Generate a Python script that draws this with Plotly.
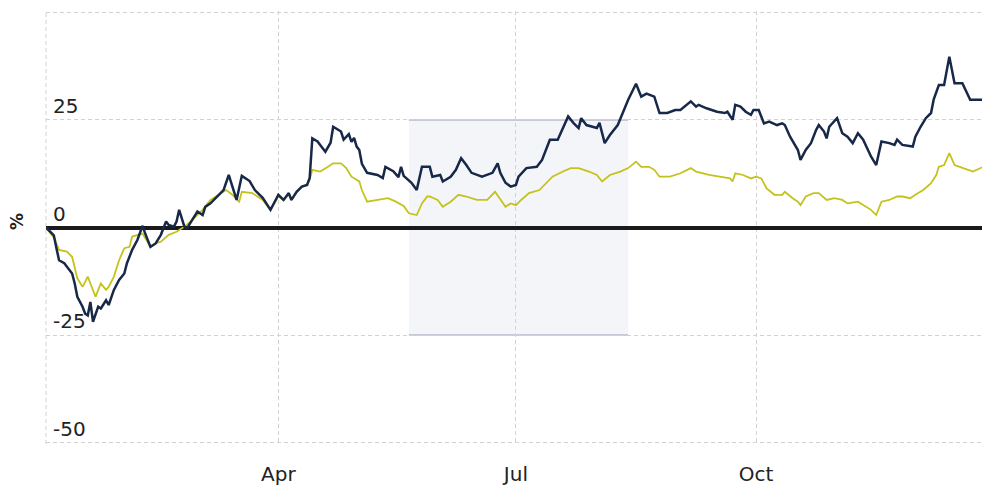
import plotly.graph_objects as go

# ---- data ----
fund_dates = [
    "2015-01-02", "2015-01-04", "2015-01-05", "2015-01-06", "2015-01-07", "2015-01-09", "2015-01-11",
    "2015-01-12", "2015-01-13", "2015-01-14", "2015-01-16", "2015-01-17", "2015-01-18", "2015-01-19",
    "2015-01-20", "2015-01-22", "2015-01-23", "2015-01-25", "2015-01-26", "2015-01-28", "2015-01-30",
    "2015-02-01", "2015-02-02", "2015-02-04", "2015-02-06", "2015-02-08", "2015-02-09", "2015-02-11",
    "2015-02-13", "2015-02-15", "2015-02-17", "2015-02-18", "2015-02-20", "2015-02-21", "2015-02-22",
    "2015-02-24", "2015-02-25", "2015-02-27", "2015-03-01", "2015-03-03", "2015-03-04", "2015-03-06",
    "2015-03-09", "2015-03-11", "2015-03-13", "2015-03-16", "2015-03-18", "2015-03-21", "2015-03-23",
    "2015-03-26", "2015-03-29", "2015-04-01", "2015-04-03", "2015-04-05", "2015-04-06", "2015-04-08",
    "2015-04-10", "2015-04-12", "2015-04-13", "2015-04-14", "2015-04-16", "2015-04-19", "2015-04-21",
    "2015-04-22", "2015-04-25", "2015-04-26", "2015-04-28", "2015-04-29", "2015-04-30", "2015-05-01",
    "2015-05-02", "2015-05-03", "2015-05-05", "2015-05-09", "2015-05-11", "2015-05-12", "2015-05-15",
    "2015-05-17", "2015-05-18", "2015-05-19", "2015-05-22", "2015-05-24", "2015-05-26", "2015-05-29",
    "2015-05-30", "2015-06-02", "2015-06-03", "2015-06-06", "2015-06-08", "2015-06-10", "2015-06-12",
    "2015-06-14", "2015-06-18", "2015-06-22", "2015-06-24", "2015-06-25", "2015-06-27", "2015-06-29",
    "2015-07-01", "2015-07-02", "2015-07-05", "2015-07-09", "2015-07-11", "2015-07-14", "2015-07-17",
    "2015-07-19", "2015-07-21", "2015-07-23", "2015-07-25", "2015-07-26", "2015-07-28", "2015-08-01",
    "2015-08-02", "2015-08-04", "2015-08-06", "2015-08-09", "2015-08-11", "2015-08-13", "2015-08-16",
    "2015-08-18", "2015-08-20", "2015-08-23", "2015-08-25", "2015-08-28", "2015-08-31", "2015-09-02",
    "2015-09-06", "2015-09-08", "2015-09-09", "2015-09-12", "2015-09-16", "2015-09-19", "2015-09-20",
    "2015-09-22", "2015-09-23", "2015-09-25", "2015-09-27", "2015-09-29", "2015-09-30", "2015-10-02",
    "2015-10-04", "2015-10-06", "2015-10-09", "2015-10-11", "2015-10-12", "2015-10-14", "2015-10-17",
    "2015-10-18", "2015-10-20", "2015-10-22", "2015-10-24", "2015-10-25", "2015-10-27", "2015-10-28",
    "2015-10-29", "2015-11-01", "2015-11-03", "2015-11-05", "2015-11-07", "2015-11-09", "2015-11-11",
    "2015-11-14", "2015-11-16", "2015-11-18", "2015-11-21", "2015-11-23", "2015-11-24", "2015-11-26",
    "2015-11-30", "2015-12-01", "2015-12-03", "2015-12-05", "2015-12-07", "2015-12-08", "2015-12-10",
    "2015-12-12", "2015-12-14", "2015-12-16", "2015-12-19", "2015-12-22", "2015-12-27", "2015-12-28",
    "2015-12-29",
]
fund_values = [
    0.0, -1.3, -1.8, -4.8, -7.6, -8.3, -9.9,
    -10.7, -13.0, -16.1, -18.4, -20.0, -20.4, -17.3,
    -21.9, -18.4, -18.8, -16.9, -18.0, -14.5, -12.2,
    -10.7, -8.3, -5.2, -2.9, 0.4, -1.4, -4.5,
    -3.7, -1.7, 1.4, 0.6, 0.2, 1.4, 4.1,
    0.2, -0.2, 1.7, 3.7, 2.9, 4.8, 5.6,
    7.6, 8.7, 12.2, 6.4, 12.0, 10.8, 8.7,
    6.9, 4.1, 7.6, 6.4, 8.0, 6.4, 8.3,
    9.5, 9.9, 11.5, 20.7, 20.0, 17.6, 19.7,
    23.4, 22.3, 20.4, 21.7, 19.9, 20.8, 18.8,
    18.0, 14.8, 12.7, 12.2, 11.5, 14.1, 13.1,
    11.7, 14.1, 12.0, 10.4, 8.7, 14.1, 14.1,
    11.8, 12.2, 10.7, 11.8, 13.4, 16.1, 14.5,
    12.7, 11.8, 12.7, 14.9, 12.7, 10.4, 9.5,
    9.9, 11.8, 13.8, 14.1, 15.7, 20.4, 20.4,
    23.1, 25.8, 24.3, 23.1, 25.4, 23.8, 23.1,
    24.3, 19.6, 21.5, 23.8, 26.6, 29.7, 33.4,
    30.4, 31.1, 30.4, 26.6, 26.6, 27.3, 27.3,
    29.3, 28.1, 28.5, 27.7, 26.9, 26.6, 26.9,
    25.0, 28.5, 28.1, 26.9, 26.2, 27.3, 27.3,
    24.2, 24.6, 23.8, 24.2, 23.8, 21.1, 18.0,
    15.7, 18.0, 19.6, 22.7, 23.8, 22.3, 20.7,
    23.4, 25.4, 21.9, 21.1, 19.6, 21.9, 20.4,
    16.5, 14.5, 20.0, 19.6, 19.2, 20.4, 19.2,
    18.8, 21.1, 23.4, 25.4, 26.6, 29.7, 33.1,
    33.1, 39.7, 33.5, 33.5, 29.7, 29.7, 31.2,
    28.5,
]

index_dates = [
    "2015-01-02", "2015-01-05", "2015-01-07", "2015-01-10", "2015-01-12", "2015-01-13", "2015-01-14",
    "2015-01-16", "2015-01-18", "2015-01-19", "2015-01-21", "2015-01-22", "2015-01-23", "2015-01-25",
    "2015-01-26", "2015-01-28", "2015-01-30", "2015-02-01", "2015-02-03", "2015-02-04", "2015-02-07",
    "2015-02-08", "2015-02-11", "2015-02-13", "2015-02-15", "2015-02-18", "2015-02-21", "2015-02-24",
    "2015-02-27", "2015-03-03", "2015-03-06", "2015-03-08", "2015-03-10", "2015-03-12", "2015-03-14",
    "2015-03-17", "2015-03-18", "2015-03-22", "2015-03-26", "2015-03-29", "2015-04-01", "2015-04-03",
    "2015-04-05", "2015-04-06", "2015-04-08", "2015-04-10", "2015-04-12", "2015-04-13", "2015-04-14",
    "2015-04-17", "2015-04-20", "2015-04-22", "2015-04-25", "2015-04-27", "2015-04-29", "2015-05-02",
    "2015-05-03", "2015-05-05", "2015-05-09", "2015-05-13", "2015-05-16", "2015-05-19", "2015-05-21",
    "2015-05-24", "2015-05-26", "2015-05-28", "2015-05-29", "2015-06-01", "2015-06-03", "2015-06-06",
    "2015-06-09", "2015-06-12", "2015-06-16", "2015-06-20", "2015-06-23", "2015-06-25", "2015-06-27",
    "2015-06-29", "2015-07-01", "2015-07-03", "2015-07-06", "2015-07-10", "2015-07-13", "2015-07-15",
    "2015-07-19", "2015-07-22", "2015-07-25", "2015-07-29", "2015-08-01", "2015-08-03", "2015-08-06",
    "2015-08-10", "2015-08-13", "2015-08-16", "2015-08-18", "2015-08-21", "2015-08-23", "2015-08-25",
    "2015-08-29", "2015-09-02", "2015-09-06", "2015-09-08", "2015-09-13", "2015-09-18", "2015-09-21",
    "2015-09-22", "2015-09-23", "2015-09-26", "2015-09-29", "2015-10-01", "2015-10-03", "2015-10-05",
    "2015-10-08", "2015-10-11", "2015-10-12", "2015-10-15", "2015-10-17", "2015-10-18", "2015-10-20",
    "2015-10-23", "2015-10-25", "2015-10-28", "2015-10-31", "2015-11-03", "2015-11-05", "2015-11-09",
    "2015-11-12", "2015-11-14", "2015-11-16", "2015-11-18", "2015-11-21", "2015-11-24", "2015-11-26",
    "2015-11-29", "2015-12-01", "2015-12-04", "2015-12-07", "2015-12-09", "2015-12-10", "2015-12-12",
    "2015-12-14", "2015-12-16", "2015-12-18", "2015-12-21", "2015-12-23", "2015-12-27", "2015-12-29",
]
index_values = [
    0.0, -2.4, -5.2, -5.6, -6.8, -9.1, -11.8,
    -13.8, -11.4, -13.0, -16.1, -14.5, -13.0, -14.5,
    -13.8, -11.4, -7.6, -4.8, -4.5, -2.1, -1.7,
    -1.4, -4.5, -3.7, -3.3, -1.7, -1.0, 0.2,
    1.7, 4.1, 6.4, 7.2, 8.0, 8.7, 7.8,
    6.0, 8.3, 8.0, 6.4, 4.1, 7.2, 6.4,
    7.8, 6.4, 8.3, 9.4, 9.9, 11.1, 13.4,
    13.0, 14.1, 14.9, 14.9, 13.8, 11.8, 10.7,
    8.7, 6.0, 6.4, 6.8, 6.0, 5.0, 3.3,
    2.9, 5.6, 7.2, 7.2, 6.4, 4.8, 6.0,
    7.6, 7.2, 6.4, 6.4, 8.3, 6.4, 4.8,
    5.6, 5.2, 6.4, 8.0, 8.7, 10.7, 11.8,
    13.0, 13.8, 13.8, 13.0, 12.2, 10.7, 12.2,
    13.0, 13.8, 15.3, 14.1, 14.1, 13.4, 11.8,
    11.8, 12.6, 13.8, 13.0, 12.2, 11.8, 11.4,
    10.7, 12.6, 12.2, 11.4, 11.8, 11.4, 9.1,
    7.6, 7.6, 8.3, 6.8, 6.0, 5.2, 7.2,
    8.0, 8.0, 6.4, 6.8, 6.4, 5.6, 6.0,
    4.8, 4.1, 2.9, 6.0, 6.4, 7.2, 7.2,
    6.8, 7.6, 8.7, 10.3, 12.2, 14.1, 14.5,
    17.3, 14.5, 14.1, 13.4, 13.0, 14.1, 13.0,
]

x_tick_dates = ["2015-04-01", "2015-07-01", "2015-10-01"]
x_tick_labels = ["Apr", "Jul", "Oct"]
y_tick_values = [-50, -25, 0, 25, 50]
y_tick_labels = ["-50", "-25", "0", "25", ""]
y_title = "%"

FONT = "DejaVu Sans"
NAVY = "#172848"
OLIVE = "#c4c31c"
GRID = "#d2d2d2"
PLOT_W = 944

fig = go.Figure()

fig.add_trace(go.Scatter(
    x=index_dates, y=index_values, mode="lines",
    line=dict(color=OLIVE, width=1.8), showlegend=False, hoverinfo="skip",
))
fig.add_trace(go.Scatter(
    x=fund_dates, y=fund_values, mode="lines",
    line=dict(color=NAVY, width=2.5), showlegend=False, hoverinfo="skip",
))

# faint watermark block behind the lines
fig.add_shape(type="rect", xref="x", yref="y",
              x0="2015-05-21", x1="2015-08-13", y0=-25, y1=25,
              fillcolor="rgba(205,210,226,0.22)", line=dict(width=0), layer="below")
fig.add_shape(type="line", xref="x", yref="y",
              x0="2015-05-21", x1="2015-08-13", y0=25, y1=25,
              line=dict(color="rgba(150,158,185,0.5)", width=2), layer="below")
fig.add_shape(type="line", xref="x", yref="y",
              x0="2015-05-21", x1="2015-08-13", y0=-25, y1=-25,
              line=dict(color="rgba(150,158,185,0.5)", width=2), layer="below")
# dashed left border
fig.add_shape(type="line", xref="paper", yref="paper", x0=0, x1=0, y0=0, y1=1,
              line=dict(color=GRID, width=1, dash="4px,3px"), layer="below")

fig.add_annotation(text="<b>" + y_title + "</b>", xref="paper", yref="y",
                   x=-29 / PLOT_W, y=1.3, xanchor="center", yanchor="middle",
                   textangle=-90, showarrow=False,
                   font=dict(family=FONT, size=17, color="#222"))

fig.update_layout(
    width=982, height=481,
    margin=dict(l=38, r=0, t=3, b=45),
    paper_bgcolor="white", plot_bgcolor="white",
    font=dict(family=FONT, size=20, color="#222"),
    showlegend=False,
)
fig.update_xaxes(
    type="date", range=["2015-01-02", "2015-12-29 14:00"],
    tickvals=x_tick_dates, ticktext=x_tick_labels,
    showgrid=True, gridcolor=GRID, griddash="4px,3px", gridwidth=1,
    showline=False, zeroline=False, ticks="", ticklabelstandoff=16,
    tickfont=dict(family=FONT, size=20, color="#222"),
)
fig.update_yaxes(
    range=[-50.3, 50.3], tickvals=y_tick_values, ticktext=y_tick_labels,
    ticklabelposition="inside top", ticklabelstandoff=4,
    showgrid=True, gridcolor=GRID, griddash="4px,3px", gridwidth=1,
    zeroline=True, zerolinecolor="#1a1a1a", zerolinewidth=3.5,
    showline=False, ticks="",
    tickfont=dict(family=FONT, size=20, color="#222"),
)

fig.write_html("out.html")
